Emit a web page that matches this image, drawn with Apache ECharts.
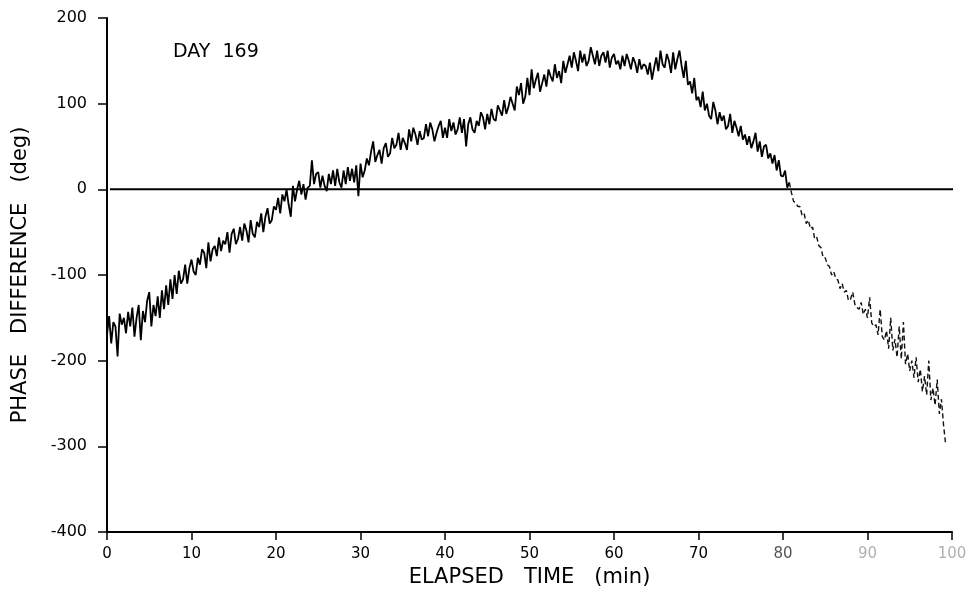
<!DOCTYPE html>
<html>
<head>
<meta charset="utf-8">
<script src="https://cdn.jsdelivr.net/npm/echarts@6/dist/echarts.min.js"></script>
<style>
html,body{margin:0;padding:0;background:#fff;}
#chart{width:973px;height:595px;}
</style>
</head>
<body>
<div id="chart"></div>
<script>
// Sampling: one reading every 0.25 min starting at t = 0 min
const startMinute = 0;
const stepMinutes = 0.25;

// Phase difference readings (deg), four per minute
const phaseDeg = [
  -170, -148, -180, -155,
  -160, -195, -145, -158,
  -150, -168, -143, -160,
  -138, -172, -150, -135,
  -176, -142, -155, -130,
  -120, -160, -135, -148,
  -125, -150, -118, -140,
  -112, -135, -105, -128,
  -100, -122, -95, -110,
  -105, -88, -110, -92,
  -82, -96, -100, -80,
  -88, -70, -74, -92,
  -62, -84, -70, -66,
  -78, -56, -72, -60,
  -64, -50, -74, -52,
  -46, -64, -58, -44,
  -60, -40, -48, -62,
  -36, -52, -56, -38,
  -44, -28, -50, -32,
  -22, -40, -36, -20,
  -24, -10, -28, -6,
  -14, 0, -18, -32,
  4, -14, 0, 10,
  -6, 6, -12, 2,
  4, 34, 6, 18,
  20, 2, 16, 4,
  -2, 18, 6, 22,
  4, 24, 8, 2,
  22, 6, 26, 10,
  24, 8, 28, -8,
  30, 14, 22, 36,
  28, 44, 56, 32,
  40, 46, 30, 48,
  54, 38, 42, 60,
  48, 52, 66, 46,
  60, 54, 46, 70,
  56, 72, 64, 52,
  68, 58, 60, 76,
  62, 78, 70, 56,
  66, 74, 80, 60,
  72, 60, 82, 68,
  78, 64, 70, 84,
  66, 82, 50, 76,
  84, 70, 66, 80,
  74, 90, 84, 70,
  88, 76, 94, 82,
  80, 98, 92, 86,
  104, 88, 96, 108,
  100, 92, 120, 110,
  124, 100, 108, 130,
  110, 140, 118, 128,
  136, 114, 124, 134,
  120, 140, 132, 126,
  146, 130, 138, 124,
  150, 136, 146, 156,
  142, 160, 150, 138,
  162, 148, 158, 144,
  150, 166, 156, 146,
  162, 144, 156, 160,
  148, 162, 142, 154,
  158, 146, 150, 140,
  156, 144, 158, 150,
  140, 154, 148, 136,
  152, 140, 146, 144,
  134, 148, 128, 142,
  154, 138, 162, 146,
  142, 158, 150, 136,
  160, 140, 152, 162,
  144, 130, 150, 122,
  126, 112, 130, 104,
  108, 96, 114, 92,
  100, 86, 82, 102,
  92, 76, 90, 80,
  86, 70, 74, 88,
  66, 80, 72, 62,
  74, 58, 64, 52,
  62, 48, 56, 66,
  44, 56, 38, 50,
  52, 36, 42, 30,
  40, 22, 34, 16,
  15, 22, 2, 8,
  -4, -14, -16, -20,
  -20, -30, -28, -40,
  -36, -46, -44, -58,
  -56, -66, -68, -80,
  -80, -88, -90, -100,
  -96, -104, -106, -116,
  -110, -120, -118, -130,
  -128, -120, -134, -138,
  -140, -132, -146, -140,
  -150, -126, -156, -160,
  -158, -170, -140, -172,
  -176, -165, -186, -150,
  -188, -175, -196, -160,
  -198, -155, -204, -192,
  -212, -200, -220, -196,
  -225, -210, -236, -218,
  -240, -200, -246, -232,
  -252, -222, -262, -245,
  -275, -298
];

// The trace becomes faint (broken) after this time (min)
const faintFromMinute = 80.75;

// Zero reference line extent (min)
const zeroLineMinutes = [0.35, 101.5];
const zeroLineDeg = [0, 0];

// Axis ticks
const xTicks = { min: 0, max: 100, interval: 10 };
const yTicks = { min: -400, max: 200, interval: 100 };

const xTitle = 'ELAPSED   TIME   (min)';
const yTitle = 'PHASE   DIFFERENCE   (deg)';
const panelLabel = 'DAY  169';

const points = phaseDeg.map((v, i) => [startMinute + i * stepMinutes, v]);
const solidPts = points.filter(p => p[0] <= faintFromMinute);
const faintPts = points.filter(p => p[0] >= faintFromMinute);
const zeroPts = zeroLineMinutes.map((t, i) => [t, zeroLineDeg[i]]);

const FONT = 'DejaVu Sans';
const chart = echarts.init(document.getElementById('chart'), null, { renderer: 'canvas' });
chart.setOption({
  backgroundColor: '#ffffff',
  animation: false,
  title: {
    text: panelLabel,
    left: 168,
    top: 38,
    textStyle: { fontFamily: FONT, fontSize: 19, fontWeight: 'normal', color: '#000' }
  },
  grid: { left: 107, right: 21, top: 18, bottom: 63, containLabel: false },
  xAxis: {
    type: 'value',
    min: xTicks.min, max: xTicks.max, interval: xTicks.interval,
    name: xTitle,
    nameLocation: 'middle',
    nameGap: 34,
    nameTextStyle: { fontFamily: FONT, fontSize: 21, color: '#000' },
    axisLine: { show: true, onZero: false, lineStyle: { color: '#000', width: 2 } },
    axisTick: { show: true, inside: false, length: 8, lineStyle: { color: '#000', width: 1.5 } },
    axisLabel: {
      fontFamily: FONT, fontSize: 15, margin: 15,
      color: function (v) { return v >= 90 ? '#b0b0b0' : (v >= 80 ? '#555' : '#000'); }
    },
    splitLine: { show: false }
  },
  yAxis: {
    type: 'value',
    min: yTicks.min, max: yTicks.max, interval: yTicks.interval,
    name: yTitle,
    nameLocation: 'middle',
    nameRotate: 90,
    nameGap: 76,
    nameTextStyle: { fontFamily: FONT, fontSize: 21, color: '#000' },
    axisLine: { show: true, onZero: false, lineStyle: { color: '#000', width: 2 } },
    axisTick: { show: true, inside: false, length: 9, lineStyle: { color: '#000', width: 1.5 } },
    axisLabel: { fontFamily: FONT, fontSize: 16, margin: 20, color: '#000' },
    splitLine: { show: false }
  },
  series: [
    {
      type: 'line', data: zeroPts, showSymbol: false, silent: true, clip: false,
      lineStyle: { color: '#000', width: 2 }, z: 1
    },
    {
      type: 'line', data: solidPts, showSymbol: false, silent: true,
      lineStyle: { color: '#000', width: 1.8 }, z: 2
    },
    {
      type: 'line', data: faintPts, showSymbol: false, silent: true,
      lineStyle: { color: '#111', width: 1.4, type: [5, 3] }, z: 2
    }
  ]
});
</script>
</body>
</html>
